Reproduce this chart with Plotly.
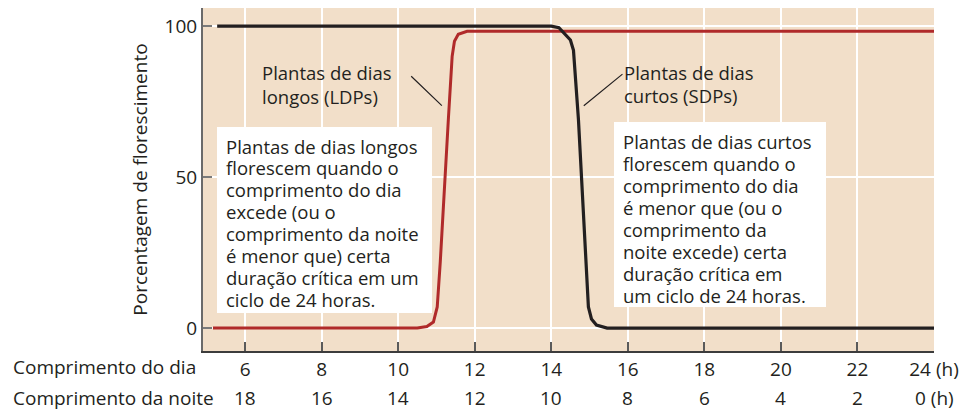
"""
Photoperiodism: flowering response of long-day and short-day plants
"""

import plotly.graph_objects as go

# --- data -------------------------------------------------------------------
# long-day plants (red), day length in hours vs % flowering
ldp_day = [5.16, 10.5, 10.75, 10.92, 11.02, 11.1, 11.31, 11.41, 11.47, 11.57, 11.8, 24.0]
ldp_pct = [0.0, 0.0, 0.5, 2.0, 7.0, 22.0, 69.0, 90.0, 95.0, 97.3, 98.3, 98.3]

# short-day plants (black)
sdp_day = [5.27, 14.0, 14.2, 14.31, 14.5, 14.58, 14.71, 14.97, 15.05, 15.18, 15.46, 24.0]
sdp_pct = [100.0, 100.0, 99.5, 98.0, 95.4, 92.0, 69.0, 7.0, 3.0, 1.0, 0.0, 0.0]

day_ticks = [6, 8, 10, 12, 14, 16, 18, 20, 22, 24]
day_labels = ["6", "8", "10", "12", "14", "16", "18", "20", "22", "24 (h)"]
night_labels = ["18", "16", "14", "12", "10", "8", "6", "4", "2", "0 (h)"]
pct_ticks = [0, 50, 100]

ldp_label = ["Plantas de dias", "longos (LDPs)"]
sdp_label = ["Plantas de dias", "curtos (SDPs)"]
ldp_note = ["Plantas de dias longos", "florescem quando o", "comprimento do dia",
            "excede (ou o", "comprimento da noite", "é menor que) certa",
            "duração crítica em um", "ciclo de 24 horas."]
sdp_note = ["Plantas de dias curtos", "florescem quando o", "comprimento do dia",
            "é menor que (ou o", "comprimento da", "noite excede) certa",
            "duração crítica em", "um ciclo de 24 horas."]

FONT = "Open Sans"
INK = "#231f20"
BEIGE = "#f2dfc9"
RED = "#b02a2a"

# plot area in page pixels, used to place the free text
PX_L, PX_R, PX_T, PX_B = 203, 934, 8, 351


def px(x):
    return (x - PX_L) / (PX_R - PX_L)


def py(y):
    return (PX_B - y) / (PX_B - PX_T)


fig = go.Figure()

fig.add_trace(go.Scatter(
    x=ldp_day, y=ldp_pct, mode="lines",
    line=dict(color=RED, width=3), name="LDPs", hoverinfo="skip"
))
fig.add_trace(go.Scatter(
    x=sdp_day, y=sdp_pct, mode="lines",
    line=dict(color=INK, width=3.2), name="SDPs", hoverinfo="skip"
))

# curve labels with leader lines
fig.add_annotation(x=10.34, y=83.4, ax=11.18, ay=73.2, xref="x", yref="y",
                   axref="x", ayref="y", text="", showarrow=True,
                   arrowhead=0, arrowwidth=1.2, arrowcolor=INK)
fig.add_annotation(x=15.86, y=84.1, ax=14.81, ay=73.2, xref="x", yref="y",
                   axref="x", ayref="y", text="", showarrow=True,
                   arrowhead=0, arrowwidth=1.2, arrowcolor=INK)


def text_lines(lines, x0, y0, step, size):
    for i, line in enumerate(lines):
        fig.add_annotation(x=px(x0), y=py(y0 + i * step), xref="paper", yref="paper",
                           xanchor="left", yanchor="middle", text=line,
                           showarrow=False, font=dict(family=FONT, size=size, color=INK))


text_lines(ldp_label, 260, 73, 23.5, 18.5)
text_lines(sdp_label, 622, 72, 23.5, 18.5)

# white explanatory boxes
fig.add_shape(type="rect", xref="paper", yref="paper", layer="above",
              x0=px(217), x1=px(432), y0=py(313), y1=py(127),
              fillcolor="white", line=dict(width=0))
fig.add_shape(type="rect", xref="paper", yref="paper", layer="above",
              x0=px(614), x1=px(826), y0=py(307), y1=py(122),
              fillcolor="white", line=dict(width=0))
text_lines(ldp_note, 224, 146, 21.9, 18.5)
text_lines(sdp_note, 621, 141, 22.1, 18.5)

# second row of x labels: night length
for t, lab in zip(day_ticks, night_labels):
    fig.add_annotation(x=t, y=0, xref="x", yref="paper", yshift=-47,
                       xanchor="center", yanchor="middle", text=lab,
                       showarrow=False, font=dict(family=FONT, size=19, color=INK))

fig.add_annotation(x=px(11), y=0, xref="paper", yref="paper", yshift=-16,
                   xanchor="left", yanchor="middle", text="Comprimento do dia",
                   showarrow=False, font=dict(family=FONT, size=19, color=INK))
fig.add_annotation(x=px(11), y=0, xref="paper", yref="paper", yshift=-47,
                   xanchor="left", yanchor="middle", text="Comprimento da noite",
                   showarrow=False, font=dict(family=FONT, size=19, color=INK))

fig.update_layout(
    width=970, height=410,
    margin=dict(l=PX_L, r=970 - PX_R, t=PX_T, b=410 - PX_B),
    plot_bgcolor=BEIGE, paper_bgcolor="white",
    showlegend=False,
    font=dict(family=FONT, size=19, color=INK),
)

fig.update_xaxes(
    range=[4.9, 24.0], tickvals=day_ticks, ticktext=day_labels,
    ticks="inside", ticklen=9, tickwidth=1.5, tickcolor="#5a5a5a",
    showline=True, linecolor="#3c3c3c", linewidth=2,
    showgrid=True, gridcolor="white", gridwidth=1.5,
    zeroline=False, tickfont=dict(family=FONT, size=19, color=INK),
)
fig.update_yaxes(
    range=[-7.6, 106], tickvals=pct_ticks,
    ticks="inside", ticklen=9, tickwidth=1.5, tickcolor="#7a7a7a",
    showline=True, linecolor="#6a6a6a", linewidth=2,
    showgrid=True, gridcolor="white", gridwidth=1.5,
    zeroline=False, tickfont=dict(family=FONT, size=19, color=INK),
    title=dict(text="Porcentagem de florescimento",
               font=dict(family=FONT, size=19, color=INK), standoff=12),
)

# the page's default body margin would shift the figure by 8px
fig.write_html("out.html", config={"displayModeBar": False},
               post_script="document.body.style.margin = '0';")
